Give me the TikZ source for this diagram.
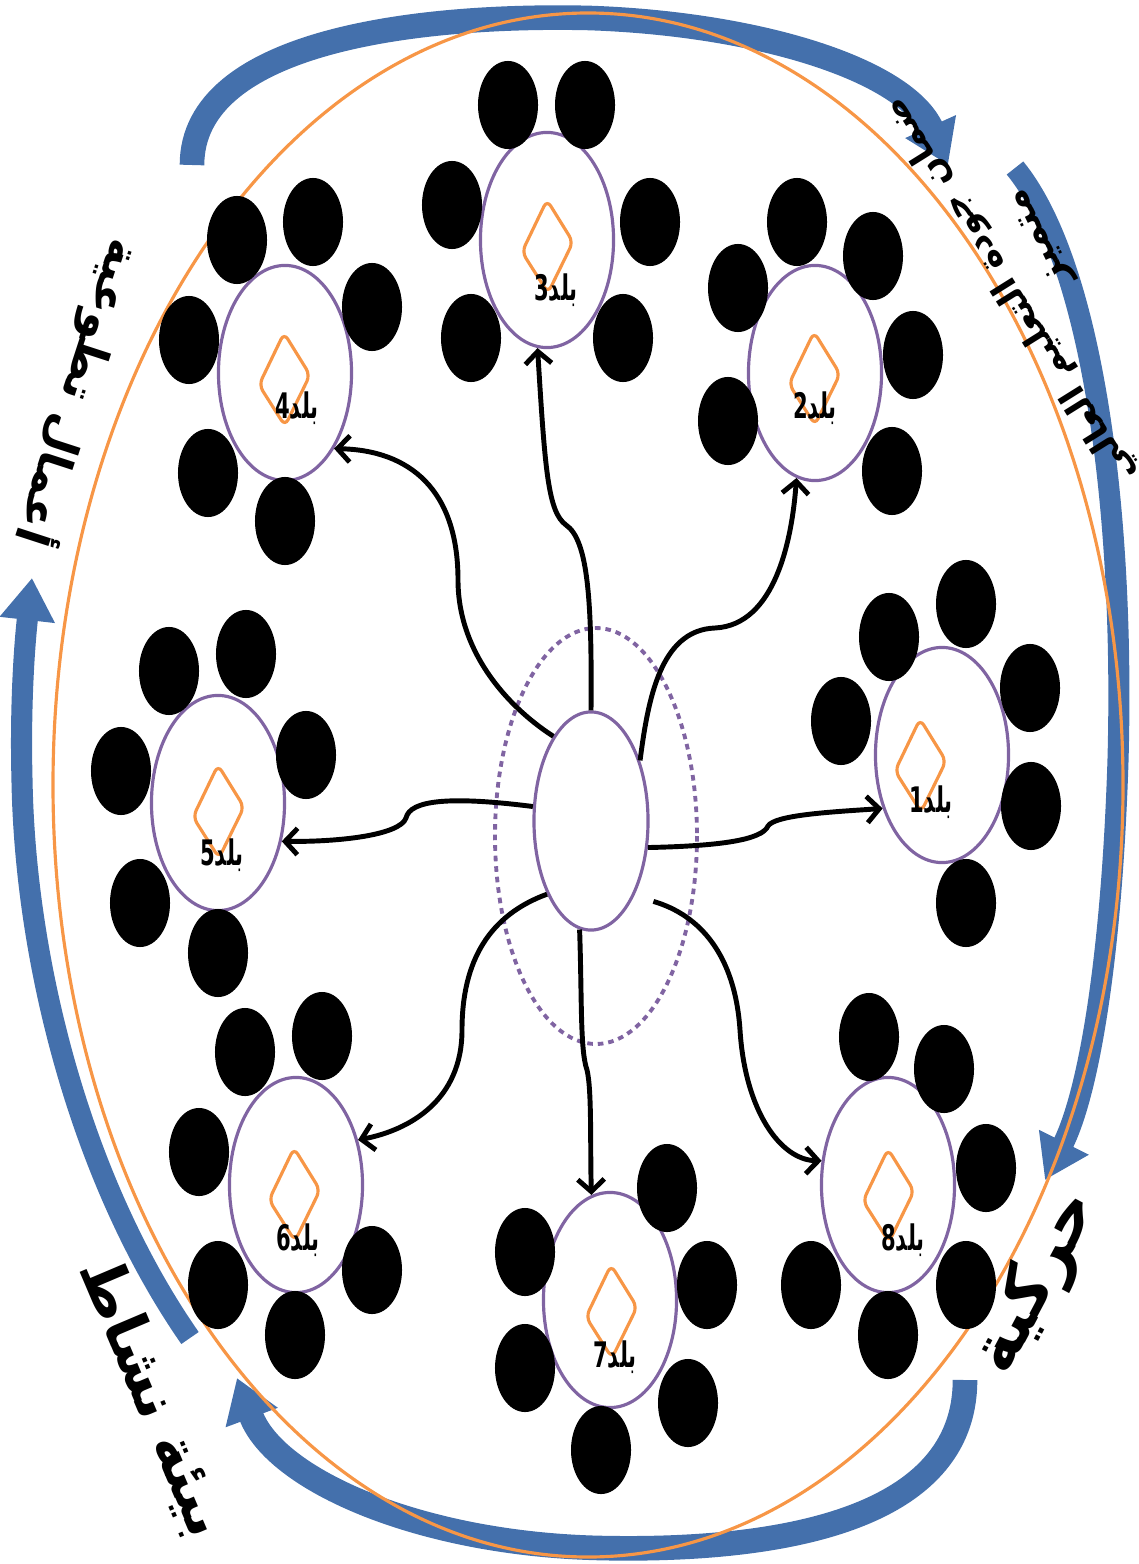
\documentclass[tikz,border=0pt]{standalone}
\usepackage{fontspec}
\usepackage{graphicx}
\usetikzlibrary{shapes.geometric,arrows.meta}
\newfontfamily\arabicfont[Script=Arabic]{DejaVu Sans}
\TeXXeTstate=1

\definecolor{ringorange}{RGB}{247,150,70}
\definecolor{lilac}{RGB}{128,100,162}
\definecolor{cycleblue}{RGB}{68,112,172}

\tikzset{
  country/.style={ellipse, draw=lilac, line width=0.9pt, minimum width=1.33cm, minimum height=2.15cm, inner sep=0pt},
  person/.style={ellipse, fill=black, minimum width=0.6cm, minimum height=0.88cm, inner sep=0pt},
  gem/.style={draw=ringorange, line width=0.9pt, rounded corners=0.7mm},
  link/.style={line width=1.4pt, -{Straight Barb[length=3.5pt,width=7.5pt]}},
  bigarrow/.style={draw=cycleblue, line width=7pt, -{Triangle[length=12pt,width=15pt]}},
  lbl/.style={font=\arabicfont\bfseries\fontsize{10}{10}\selectfont, inner sep=0pt},
  ringtext/.style={font=\arabicfont\bfseries\fontsize{19}{19}\selectfont, inner sep=0pt},
  sidetext/.style={font=\arabicfont\bfseries\fontsize{13}{13}\selectfont, inner sep=0pt},
}

\begin{document}
\begin{tikzpicture}[x=0.01cm, y=-0.01cm]
  \useasboundingbox (0,0) rectangle (1138,1564);

  % the four blue arrows going round
  \draw[bigarrow] (192,165) .. controls (192,40) and (420,14) .. (590,18)
                            .. controls (760,24) and (905,70) .. (948,165);
  \draw[bigarrow, line width=6pt] (1015,168) .. controls (1090,260) and (1125,500) .. (1118,760)
                             .. controls (1112,950) and (1090,1090) .. (1045,1180);
  \draw[bigarrow] (965,1380) .. controls (965,1520) and (780,1552) .. (600,1548)
                             .. controls (420,1544) and (275,1480) .. (237,1378);
  \draw[bigarrow, line width=6pt] (190,1338) .. controls (80,1180) and (25,960) .. (22,780)
                             .. controls (20,700) and (25,640) .. (32,578);

  % orange ring
  \draw[ringorange, line width=0.9pt] (588,785) ellipse (535 and 772);

  % centre
  \draw[lilac, line width=1.1pt, dash pattern=on 1.6pt off 1.4pt] (596,836) ellipse (101 and 208);
  \node[ellipse, draw=lilac, line width=0.9pt, minimum width=1.14cm, minimum height=2.18cm, inner sep=0pt] (hub) at (591,821) {};

  % countries
  \foreach \n/\x/\y in {1/942/755, 2/815/373, 3/547/240, 4/285/373,
                        5/218/803, 6/296/1185, 7/610/1300, 8/888/1185}
    \node[country] (c\n) at (\x,\y) {};

  % diamonds inside
  \foreach \x/\y in {920/766, 814/379, 547/247, 284/380, 218/812, 294/1195, 611/1312, 888/1196}
    \draw[gem] (\x,\y-47) -- (\x+26,\y-5) -- (\x+1,\y+46) -- (\x-25,\y+5) -- cycle;

  % people around each country
  \foreach \x/\y [count=\i] in {
      508/105, 585/105, 452/205, 650/222, 471/338, 623/338,
      797/222, 873/256, 738/288, 913/355, 728/421, 892/471,
      237/240, 313/222, 189/340, 372/307, 208/473, 285/521,
      889/637, 966/604, 1030/688, 841/721, 1031/806, 966/903,
      169/671, 246/654, 306/755, 121/771, 140/903, 218/953,
      245/1052, 322/1036, 199/1152, 372/1270, 218/1285, 295/1335,
      667/1188, 525/1252, 707/1285, 525/1368, 688/1403, 601/1450,
      869/1037, 944/1069, 986/1168, 811/1285, 966/1285, 888/1335}
    \node[person] (p\i) at (\x,\y) {};

  % labels
  \foreach \n/\x/\y in {1/931/802, 2/815/408, 3/556/290, 4/297/408,
                        5/222/855, 6/298/1240, 7/615/1357, 8/903/1240}
    \node[lbl] (l\n) at (\x,\y) {\scalebox{0.6}[1]{\n\beginR بلد\endR}};

  % links from the centre
  \draw[link] (hub.north) .. controls (592,600) and (588,540) .. (566,525)
                          .. controls (548,512) and (545,470) .. (c3.265);
  \draw[link] (hub.51) .. controls (648,700) and (660,630) .. (715,628)
                       .. controls (775,625) and (792,540) .. (c2.-100);
  \draw[link] (hub.114) .. controls (505,705) and (458,650) .. (458,580)
                        .. controls (458,490) and (410,450) .. (c4.-57);
  \draw[link] (hub.166) .. controls (450,796) and (410,800) .. (406,818)
                        .. controls (400,835) and (340,842) .. (c5.-31);
  \draw[link] (hub.-25) .. controls (720,846) and (762,840) .. (768,826)
                        .. controls (775,815) and (830,812) .. (c1.-138);
  \draw[link] (hub.-121) .. controls (490,915) and (462,960) .. (462,1030)
                         .. controls (462,1100) and (410,1130) .. (c6.36);
  \draw[link] (hub.-96) .. controls (582,1000) and (580,1050) .. (587,1070)
                        .. controls (592,1090) and (590,1150) .. (c7.100);
  \draw[link, shorten <=0.2cm] (hub.-60) .. controls (700,915) and (735,955) .. (740,1030)
                        .. controls (745,1110) and (780,1160) .. (c8.160);

  % words round the ring
  \node[sidetext, font=\arabicfont\bfseries\fontsize{10}{10}\selectfont, rotate=122] (quality) at (1010,290) {\beginR ضمان جودة التعليم العالي\endR};
  \node[sidetext, font=\arabicfont\bfseries\fontsize{11}{11}\selectfont, rotate=116] (quality2) at (1042,236) {\beginR متميز\endR};
  \node[ringtext, rotate=62] (mobility) at (1037,1283) {\beginR حركية\endR};
  \node[ringtext, font=\arabicfont\bfseries\fontsize{17}{17}\selectfont, rotate=-67] (activity) at (152,1398) {\beginR بيئة نشاط\endR};
  \node[sidetext, rotate=-108] (volunteer) at (80,393) {\beginR أعمال تطوعية\endR};
\end{tikzpicture}
\end{document}
